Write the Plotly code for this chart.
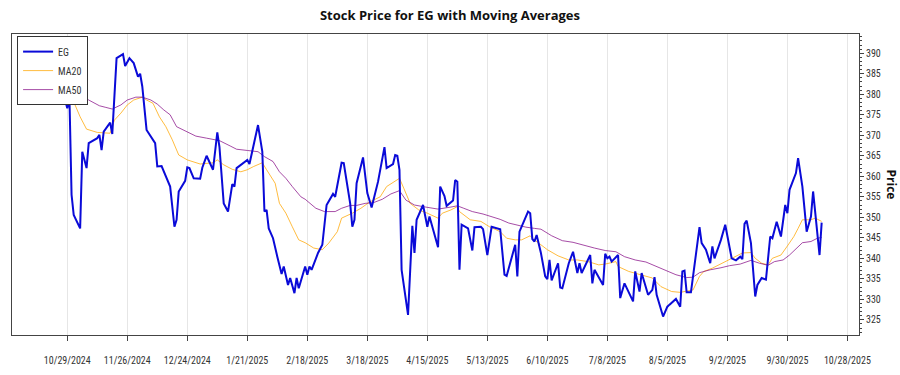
import plotly.graph_objects as go

# ---------------- data ----------------
price_dates = [
    "2024-10-25", "2024-10-26", "2024-10-27", "2024-10-29", "2024-10-30", "2024-10-31",
    "2024-11-01", "2024-11-04", "2024-11-05", "2024-11-07", "2024-11-08", "2024-11-12",
    "2024-11-13", "2024-11-14", "2024-11-15", "2024-11-18", "2024-11-19", "2024-11-20",
    "2024-11-21", "2024-11-24", "2024-11-25", "2024-11-27", "2024-11-29", "2024-12-01",
    "2024-12-02", "2024-12-03", "2024-12-05", "2024-12-09", "2024-12-10", "2024-12-12",
    "2024-12-16", "2024-12-18", "2024-12-19", "2024-12-20", "2024-12-23", "2024-12-24",
    "2024-12-25", "2024-12-27", "2024-12-30", "2024-12-31", "2025-01-02", "2025-01-05",
    "2025-01-07", "2025-01-08", "2025-01-10", "2025-01-12", "2025-01-14", "2025-01-15",
    "2025-01-16", "2025-01-21", "2025-01-22", "2025-01-26", "2025-01-28", "2025-01-29",
    "2025-01-30", "2025-01-31", "2025-02-02", "2025-02-04", "2025-02-05", "2025-02-06",
    "2025-02-07", "2025-02-09", "2025-02-10", "2025-02-12", "2025-02-13", "2025-02-14",
    "2025-02-17", "2025-02-18", "2025-02-19", "2025-02-20", "2025-02-23", "2025-02-25",
    "2025-02-27", "2025-03-02", "2025-03-03", "2025-03-06", "2025-03-07", "2025-03-09",
    "2025-03-10", "2025-03-11", "2025-03-12", "2025-03-13", "2025-03-16", "2025-03-18",
    "2025-03-20", "2025-03-23", "2025-03-26", "2025-03-27", "2025-03-30", "2025-03-31",
    "2025-04-01", "2025-04-02", "2025-04-03", "2025-04-06", "2025-04-07", "2025-04-08",
    "2025-04-09", "2025-04-10", "2025-04-13", "2025-04-15", "2025-04-16", "2025-04-20",
    "2025-04-21", "2025-04-23", "2025-04-24", "2025-04-27", "2025-04-28", "2025-04-29",
    "2025-04-30", "2025-05-01", "2025-05-04", "2025-05-06", "2025-05-07", "2025-05-10",
    "2025-05-11", "2025-05-13", "2025-05-15", "2025-05-19", "2025-05-21", "2025-05-22",
    "2025-05-26", "2025-05-27", "2025-05-28", "2025-05-29", "2025-06-01", "2025-06-02",
    "2025-06-03", "2025-06-04", "2025-06-05", "2025-06-07", "2025-06-09", "2025-06-10",
    "2025-06-11", "2025-06-12", "2025-06-15", "2025-06-16", "2025-06-17", "2025-06-20",
    "2025-06-22", "2025-06-24", "2025-06-25", "2025-06-26", "2025-06-30", "2025-07-01",
    "2025-07-02", "2025-07-06", "2025-07-07", "2025-07-08", "2025-07-09", "2025-07-10",
    "2025-07-13", "2025-07-14", "2025-07-16", "2025-07-20", "2025-07-21", "2025-07-23",
    "2025-07-24", "2025-07-27", "2025-07-29", "2025-07-30", "2025-07-31", "2025-08-03",
    "2025-08-05", "2025-08-06", "2025-08-09", "2025-08-11", "2025-08-12", "2025-08-13",
    "2025-08-14", "2025-08-16", "2025-08-20", "2025-08-21", "2025-08-23", "2025-08-25",
    "2025-08-26", "2025-08-27", "2025-08-30", "2025-09-01", "2025-09-04", "2025-09-06",
    "2025-09-08", "2025-09-09", "2025-09-10", "2025-09-11", "2025-09-13", "2025-09-15",
    "2025-09-16", "2025-09-18", "2025-09-20", "2025-09-22", "2025-09-23", "2025-09-25",
    "2025-09-27", "2025-09-29", "2025-09-30", "2025-10-01", "2025-10-04", "2025-10-05",
    "2025-10-07", "2025-10-09", "2025-10-10", "2025-10-11", "2025-10-12", "2025-10-14",
    "2025-10-15", "2025-10-16",
]
price_values = [
    379.3, 379.8, 380.6, 376.6, 379.4, 355.5,
    350.6, 347.3, 366.0, 362.0, 368.1, 369.3,
    370.1, 366.4, 370.9, 373.1, 370.3, 379.4,
    388.8, 389.8, 386.9, 388.8, 387.6, 384.3,
    385.0, 381.9, 371.3, 368.1, 362.4, 362.5,
    357.5, 347.7, 349.4, 356.3, 358.9, 362.2,
    362.0, 359.5, 359.4, 362.1, 365.0, 361.6,
    370.7, 367.2, 353.4, 351.4, 358.1, 357.5,
    362.0, 364.0, 363.0, 372.5, 366.0, 351.4,
    351.8, 347.3, 344.9, 340.4, 338.0, 336.2,
    338.0, 333.5, 335.2, 331.5, 335.2, 332.7,
    338.0, 336.0, 338.0, 337.2, 341.3, 343.3,
    353.0, 355.7, 355.0, 363.3, 363.2, 356.3,
    353.4, 347.7, 349.4, 358.3, 364.6, 355.9,
    352.4, 358.7, 367.1, 362.0, 363.0, 365.2,
    365.0, 361.6, 337.2, 326.2, 337.2, 347.9,
    341.3, 349.4, 353.0, 347.7, 350.2, 342.7,
    357.5, 355.2, 352.8, 354.1, 359.1, 358.7,
    337.2, 348.2, 347.3, 341.9, 347.6, 347.7,
    347.1, 340.8, 347.7, 347.1, 336.0, 335.7,
    343.3, 335.6, 346.5, 347.7, 351.4, 351.0,
    344.7, 344.1, 345.7, 341.3, 335.6, 334.9,
    339.6, 334.6, 338.8, 332.9, 332.7, 338.8,
    341.6, 336.4, 338.8, 336.4, 340.8, 333.9,
    337.2, 333.5, 341.1, 340.0, 340.4, 339.2,
    340.8, 330.3, 333.9, 329.5, 336.8, 331.9,
    336.4, 331.1, 332.3, 335.4, 331.1, 325.8,
    328.2, 328.7, 330.1, 328.2, 336.8, 337.0,
    331.7, 331.7, 347.6, 343.7, 342.1, 338.8,
    342.9, 340.0, 344.5, 348.2, 340.0, 339.5,
    340.4, 339.8, 348.4, 349.2, 343.7, 330.7,
    333.5, 335.2, 334.8, 345.3, 344.9, 348.9,
    345.3, 353.0, 351.0, 356.7, 360.8, 364.4,
    357.5, 346.5, 348.2, 350.2, 356.3, 346.9,
    340.8, 348.7,
]

ma20_dates = [
    "2024-10-31", "2024-11-04", "2024-11-07", "2024-11-12", "2024-11-18", "2024-11-20",
    "2024-11-23", "2024-11-26", "2024-11-29", "2024-12-03", "2024-12-05", "2024-12-08",
    "2024-12-11", "2024-12-14", "2024-12-17", "2024-12-20", "2024-12-24", "2024-12-30",
    "2025-01-05", "2025-01-07", "2025-01-10", "2025-01-14", "2025-01-18", "2025-01-21",
    "2025-01-24", "2025-01-28", "2025-01-30", "2025-02-02", "2025-02-03", "2025-02-05",
    "2025-02-07", "2025-02-08", "2025-02-11", "2025-02-14", "2025-02-17", "2025-02-21",
    "2025-02-25", "2025-02-28", "2025-03-04", "2025-03-06", "2025-03-11", "2025-03-15",
    "2025-03-19", "2025-03-24", "2025-03-27", "2025-03-30", "2025-04-02", "2025-04-04",
    "2025-04-07", "2025-04-11", "2025-04-15", "2025-04-20", "2025-04-22", "2025-04-26",
    "2025-04-29", "2025-04-30", "2025-05-05", "2025-05-10", "2025-05-14", "2025-05-19",
    "2025-05-22", "2025-05-26", "2025-05-29", "2025-06-02", "2025-06-03", "2025-06-07",
    "2025-06-10", "2025-06-15", "2025-06-20", "2025-06-24", "2025-06-29", "2025-07-04",
    "2025-07-07", "2025-07-12", "2025-07-13", "2025-07-18", "2025-07-24", "2025-07-29",
    "2025-08-02", "2025-08-07", "2025-08-11", "2025-08-16", "2025-08-17", "2025-08-20",
    "2025-08-22", "2025-08-26", "2025-08-30", "2025-09-03", "2025-09-06", "2025-09-09",
    "2025-09-13", "2025-09-15", "2025-09-18", "2025-09-21", "2025-09-23", "2025-09-27",
    "2025-09-30", "2025-10-03", "2025-10-05", "2025-10-07", "2025-10-11", "2025-10-13",
    "2025-10-16",
]
ma20_values = [
    379.4, 374.5, 371.5, 370.7, 370.5, 373.7,
    375.4, 377.4, 378.6, 379.3, 378.6, 377.8,
    374.5, 372.1, 368.9, 365.2, 364.0, 363.0,
    363.3, 364.0, 362.8, 361.7, 361.1, 361.6,
    362.4, 363.3, 361.6, 359.1, 358.3, 353.4,
    351.8, 351.0, 347.7, 344.5, 343.8, 342.5,
    342.1, 343.7, 346.5, 349.8, 351.0, 352.2,
    353.7, 355.0, 357.5, 358.5, 359.5, 357.1,
    353.4, 351.8, 351.0, 349.8, 351.0, 351.8,
    352.6, 351.4, 349.4, 349.0, 347.7, 346.5,
    344.9, 344.5, 344.5, 345.5, 344.9, 343.3,
    342.1, 340.6, 339.6, 339.6, 339.2, 338.4,
    338.6, 339.2, 338.0, 336.8, 336.0, 335.2,
    333.1, 331.9, 331.7, 332.3, 332.3, 335.6,
    336.8, 337.6, 338.6, 339.8, 340.4, 341.3,
    341.4, 340.0, 338.8, 338.4, 340.0, 340.8,
    343.0, 345.3, 347.3, 349.4, 349.4, 349.8,
    349.0,
]

ma50_dates = [
    "2024-10-31", "2024-11-04", "2024-11-08", "2024-11-13", "2024-11-16", "2024-11-19",
    "2024-11-23", "2024-11-26", "2024-11-30", "2024-12-03", "2024-12-07", "2024-12-10",
    "2024-12-13", "2024-12-16", "2024-12-19", "2024-12-24", "2024-12-28", "2025-01-02",
    "2025-01-08", "2025-01-13", "2025-01-16", "2025-01-21", "2025-01-26", "2025-01-29",
    "2025-02-02", "2025-02-05", "2025-02-08", "2025-02-11", "2025-02-15", "2025-02-17",
    "2025-02-22", "2025-02-26", "2025-03-03", "2025-03-06", "2025-03-10", "2025-03-13",
    "2025-03-17", "2025-03-21", "2025-03-25", "2025-03-29", "2025-04-02", "2025-04-05",
    "2025-04-09", "2025-04-13", "2025-04-20", "2025-04-26", "2025-04-29", "2025-05-02",
    "2025-05-06", "2025-05-11", "2025-05-16", "2025-05-19", "2025-05-23", "2025-05-28",
    "2025-05-31", "2025-06-04", "2025-06-07", "2025-06-12", "2025-06-17", "2025-06-22",
    "2025-06-28", "2025-07-02", "2025-07-07", "2025-07-12", "2025-07-16", "2025-07-21",
    "2025-07-26", "2025-07-30", "2025-08-04", "2025-08-09", "2025-08-14", "2025-08-17",
    "2025-08-20", "2025-08-25", "2025-08-30", "2025-09-03", "2025-09-08", "2025-09-11",
    "2025-09-13", "2025-09-17", "2025-09-21", "2025-09-24", "2025-09-28", "2025-10-01",
    "2025-10-04", "2025-10-07", "2025-10-11", "2025-10-14", "2025-10-16",
]
ma50_values = [
    382.3, 380.6, 378.6, 377.2, 376.8, 376.4,
    377.4, 378.6, 379.3, 379.3, 378.6, 377.6,
    376.2, 375.0, 372.1, 370.9, 369.8, 369.3,
    368.7, 367.4, 366.6, 366.3, 366.0, 364.8,
    363.6, 361.1, 359.5, 357.5, 355.0, 354.4,
    352.2, 351.4, 351.4, 352.2, 352.9, 352.9,
    353.4, 353.6, 354.4, 355.7, 356.5, 354.2,
    353.0, 352.6, 352.0, 352.5, 352.8, 352.2,
    351.4, 350.8, 350.0, 349.5, 348.6, 347.9,
    347.6, 347.3, 347.1, 345.5, 344.3, 343.9,
    343.0, 342.5, 341.9, 341.6, 340.4, 339.6,
    339.1, 338.2, 337.2, 336.0, 335.3, 335.4,
    336.5, 337.2, 337.7, 338.2, 338.6, 339.2,
    339.5, 338.8, 338.3, 339.2, 339.6, 340.8,
    342.2, 343.8, 344.1, 344.9, 345.1,
]

title_text = "Stock Price for EG with Moving Averages"
ticker = "EG"
y_title = "Price"

# ---------------- figure ----------------
TICKFONT = "Liberation Sans Narrow, Roboto Condensed, Roboto, sans-serif"
TITLEFONT = "Open Sans, Noto Sans, sans-serif"

fig = go.Figure()
fig.add_trace(go.Scatter(x=ma20_dates, y=ma20_values, mode="lines", name="MA20",
                         legendrank=2,
                         line=dict(color="rgba(255,165,0,0.75)", width=1)))
fig.add_trace(go.Scatter(x=ma50_dates, y=ma50_values, mode="lines", name="MA50",
                         legendrank=3,
                         line=dict(color="rgba(128,0,128,0.7)", width=1)))
fig.add_trace(go.Scatter(x=price_dates, y=price_values, mode="lines", name=ticker,
                         legendrank=1,
                         line=dict(color="#0a0ad8", width=2)))

fig.update_layout(
    width=900, height=375,
    margin=dict(l=12, r=41, t=34, b=40, autoexpand=False),
    paper_bgcolor="white", plot_bgcolor="white",
    font=dict(family=TICKFONT, size=10, color="#333"),
    title=dict(text="<b>" + title_text + "</b>", x=0.5, xanchor="center", xref="container",
               y=0.96, yanchor="middle", yref="container",
               font=dict(family=TITLEFONT, size=13, color="#111")),
    showlegend=True,
    hovermode=False,
    legend=dict(x=0.006, y=0.993, xanchor="left", yanchor="top",
                bgcolor="white", bordercolor="#333", borderwidth=1,
                font=dict(family=TICKFONT, size=10, color="#333"),
                itemwidth=30, tracegroupgap=0),
)

fig.update_xaxes(
    type="date", automargin=False,
    range=["2024-10-03 05:00", "2025-11-02 10:00"],
    tick0="2024-10-29", dtick=28 * 86400000,
    tickformat="%-m/%-d/%Y",
    showgrid=True, gridcolor="#e6e6e6", gridwidth=1,
    ticks="outside", ticklen=5, tickcolor="#444",
    ticklabelstandoff=11,
    showline=True, linecolor="#444", linewidth=1, mirror=True,
    zeroline=False,
    tickfont=dict(size=10, color="#333"),
)
fig.update_yaxes(
    side="right", automargin=False,
    range=[321.3, 394.7],
    dtick=5, tick0=0,
    showgrid=False,
    ticks="outside", ticklen=4, tickcolor="#444",
    minor=dict(ticks="outside", ticklen=2, dtick=1, tickcolor="#444", showgrid=False),
    showline=True, linecolor="#444", linewidth=1, mirror=True,
    zeroline=False,
    tickfont=dict(size=10, color="#333"),
)

fig.add_annotation(text="<b>" + y_title + "</b>", xref="paper", yref="paper",
                   x=1.0, xshift=32, xanchor="center", y=0.5, yanchor="middle",
                   textangle=90, showarrow=False,
                   font=dict(family=TITLEFONT, size=12, color="#111"))

# the page's default 8px body margin would shift the whole figure; remove it
fig.write_html("out.html",
               config={"displayModeBar": False, "staticPlot": True},
               post_script="document.body.style.margin='0';document.body.style.overflow='hidden';")
